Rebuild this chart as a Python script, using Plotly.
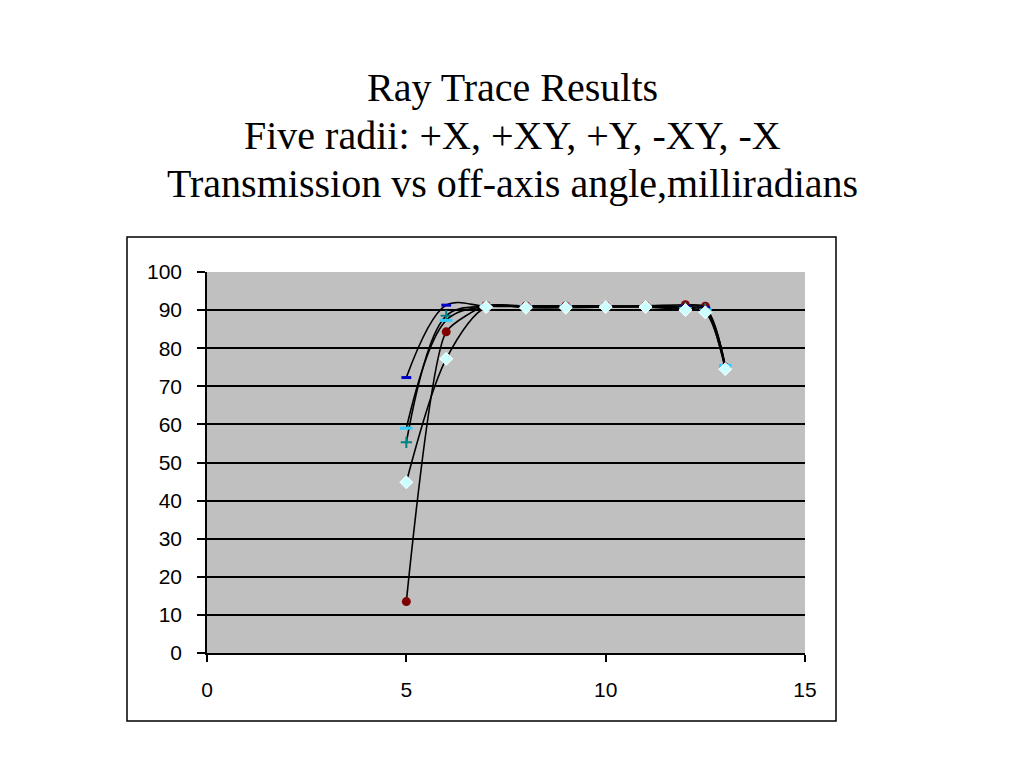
import plotly.graph_objects as go

angles = [5, 6, 7, 8, 9, 10, 11, 12, 12.5, 13]
plus_x = [13.5, 84.3, 91.2, 91.1, 91.1, 91.1, 91.1, 91.4, 91.0, 75.0]
plus_xy = [72.3, 91.3, 91.0, 91.0, 91.0, 91.0, 91.0, 91.0, 90.6, 75.2]
plus_y = [55.3, 88.5, 91.0, 90.9, 90.9, 90.9, 90.9, 90.6, 90.3, 74.8]
minus_xy = [59.0, 87.3, 91.0, 90.9, 90.9, 90.9, 90.9, 90.4, 90.0, 75.5]
minus_x = [44.8, 77.2, 90.8, 90.6, 90.6, 90.8, 90.8, 90.0, 89.4, 74.5]

series = [
    ("+X", plus_x, 0.55, dict(symbol="circle", size=9, color="#800000", line=dict(width=0))),
    ("+XY", plus_xy, 1.0, dict(symbol="line-ew-open", size=7, color="#0000CC", line=dict(width=3, color="#0000CC"))),
    ("+Y", plus_y, 1.0, dict(symbol="cross-thin-open", size=8, color="#008080", line=dict(width=2, color="#008080"))),
    ("-XY", minus_xy, 1.0, dict(symbol="line-ew-open", size=9, color="#33CCFF", line=dict(width=3, color="#33CCFF"))),
    ("-X", minus_x, 0.9, dict(symbol="diamond", size=10, color="#CCFFFF", line=dict(width=1, color="#FFFFFF"))),
]

fig = go.Figure()
for name, vals, sm, marker in series:
    fig.add_trace(go.Scatter(
        x=angles, y=vals, name=name, mode="lines+markers",
        line=dict(color="black", width=1.6, shape="spline", smoothing=sm),
        marker=marker, showlegend=False,
    ))

W, H = 1024, 768
OFF = 8  # page body offset
L, R, T, B = 207 - OFF, 805 - OFF, 272 - OFF, 653 - OFF
pw, ph = R - L, B - T

def px(x):
    return (x - OFF - L) / pw

def py(y):
    return (B - (y - OFF)) / ph

fig.update_layout(
    width=W, height=H,
    margin=dict(l=L, r=W - R, t=T, b=H - B, pad=0),
    paper_bgcolor="white",
    plot_bgcolor="#C0C0C0",
    font=dict(family="Liberation Sans, Arial", size=21, color="black"),
    xaxis=dict(range=[0, 15], tickvals=[0, 5, 10, 15], showgrid=False, zeroline=False,
               showline=True, linecolor="black", linewidth=1.5, ticks="outside",
               ticklen=7, tickcolor="black", tickwidth=1.5, ticklabelstandoff=10,
               tickfont=dict(size=21)),
    yaxis=dict(range=[0, 100], tickvals=list(range(0, 101, 10)), showgrid=True,
               gridcolor="black", gridwidth=1.5, zeroline=False, showline=True,
               linecolor="black", linewidth=1.5, ticks="outside", ticklen=8,
               tickcolor="black", tickwidth=1.5, ticklabelstandoff=11,
               tickfont=dict(size=21)),
    shapes=[dict(type="rect", xref="paper", yref="paper",
                 x0=px(127), x1=px(836), y0=py(721), y1=py(237),
                 line=dict(color="black", width=1.5), fillcolor="rgba(0,0,0,0)", layer="below")],
)

titles = ["Ray Trace Results", "Five radii: +X, +XY, +Y, -XY, -X",
          "Transmission vs off-axis angle,milliradians"]
for t, ypix in zip(titles, [87, 135, 183]):
    fig.add_annotation(text=t, xref="paper", yref="paper", x=px(512), y=py(ypix),
                       showarrow=False, xanchor="center", yanchor="middle",
                       font=dict(family="Liberation Serif, Times New Roman", size=40, color="black"))

fig.write_html("out.html")
